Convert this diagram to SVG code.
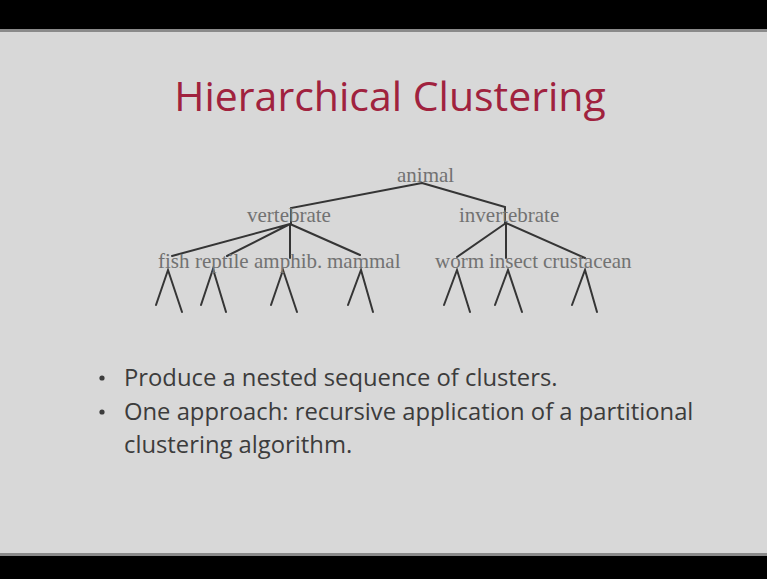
<svg xmlns="http://www.w3.org/2000/svg" width="767" height="579" viewBox="0 0 767 579">
<style>
.lbl{font-family:"Liberation Serif","Times New Roman",serif;font-size:21px;fill:#727272}
.edge{stroke:#353535;stroke-width:2;fill:none;stroke-linecap:round}
.bul{font-family:"Open Sans","Liberation Sans",sans-serif;font-size:23.8px;fill:#3c3c3c}
</style>
<rect x="0" y="0" width="767" height="579" fill="#d8d8d8"/>
<rect x="0" y="0" width="767" height="29" fill="#000"/>
<rect x="0" y="29" width="767" height="3" fill="#8a8a8a"/>
<rect x="0" y="553" width="767" height="3" fill="#8a8a8a"/>
<rect x="0" y="556" width="767" height="23" fill="#000"/>
<text x="390" y="111" text-anchor="middle" font-family="'Open Sans','Liberation Sans',sans-serif" font-size="41" fill="#a0223e">Hierarchical Clustering</text>
<g id="connectors">
<path class="edge" d="M422,183 L291,208 L291,224 M422,183 L505,207 L505,223"/>
<path class="edge" d="M290,224 L172,256 M290,224 L227,256 M290,224 L290,258 M290,224 L360,255"/>
<path class="edge" d="M506,223 L457,257 M506,223 L506,258 M506,223 L585,258"/>
<path class="edge" d="M156,305 L168,270 L182,312 M201,305 L213,269 L226,312 M271,305 L283,270 L297,312 M348,305 L361,270 L373,312"/>
<path class="edge" d="M444,305 L457,270 L470,312 M495,305 L508,270 L522,312 M572,305 L585,270 L597,312"/>
</g>
<g id="animal"><text class="lbl" x="397" y="182">animal</text></g>
<g id="vertebrate"><text class="lbl" x="247" y="222">vertebrate</text></g>
<g id="invertebrate"><text class="lbl" x="459" y="222">invertebrate</text></g>
<g id="fish"><text class="lbl" x="158" y="268">fish</text></g>
<g id="reptile"><text class="lbl" x="195" y="268">reptile</text></g>
<g id="amphib"><text class="lbl" x="254" y="268">amphib.</text></g>
<g id="mammal"><text class="lbl" x="327" y="268">mammal</text></g>
<g id="worm"><text class="lbl" x="435" y="268">worm</text></g>
<g id="insect"><text class="lbl" x="489" y="268">insect</text></g>
<g id="crustacean"><text class="lbl" x="543" y="268">crustacean</text></g>
<g id="bullets">
<circle cx="102" cy="378" r="2.6" fill="#3c3c3c"/>
<circle cx="102" cy="412" r="2.6" fill="#3c3c3c"/>
<text class="bul" x="124" y="386">Produce a nested sequence of clusters.</text>
<text class="bul" x="124" y="420">One approach: recursive application of a partitional</text>
<text class="bul" x="124" y="453">clustering algorithm.</text>
</g>
</svg>
